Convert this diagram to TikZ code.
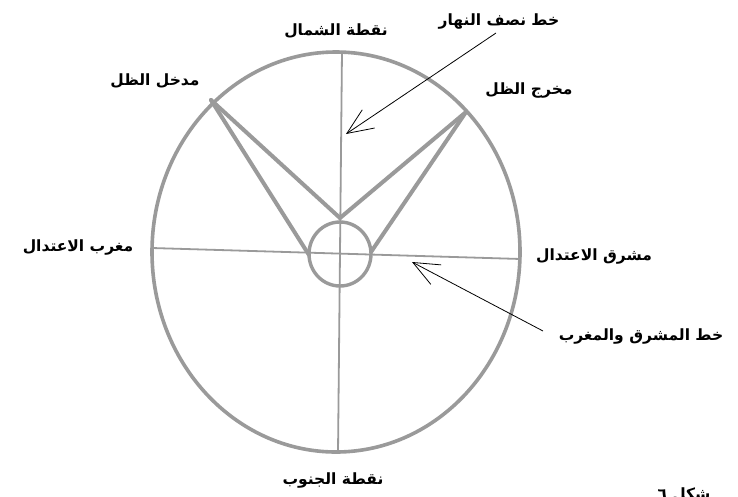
\documentclass[tikz,border=0pt]{standalone}
\usepackage{fontspec}
\newfontfamily\arabicfont[Script=Arabic]{DejaVu Sans}
\TeXXeTstate=1
\usetikzlibrary{arrows.meta}
\definecolor{lg}{HTML}{9A9A9A}
\begin{document}
\begin{tikzpicture}[x=1pt,y=-1pt,
  lbl/.style={font=\arabicfont\bfseries\fontsize{15.5}{18}\selectfont, inner sep=0pt, text=black},
  rim/.style={draw=lg, line width=3.6pt},
  shade/.style={draw=lg, line width=4pt, line cap=round, line join=round},
  axis/.style={draw=lg, line width=1.8pt},
  pointer/.style={draw=black, line width=0.8pt, -{Straight Barb[length=26pt,width=22pt,line width=0.8pt]}}]
\clip (0,0) rectangle (738,496);
\fill[white] (0,0) rectangle (738,496);

% outer ellipse
\draw[rim] (336,252) ellipse [x radius=184pt, y radius=200pt];

% axes
\coordinate (N) at (342,51);
\coordinate (S) at (338,453);
\coordinate (W) at (152,248);
\coordinate (E) at (521,259);
\draw[axis] (N) -- (S);
\draw[axis] (W) -- (E);

% small circle
\draw[draw=lg, line width=3.4pt] (340,254) ellipse [x radius=31pt, y radius=32pt];

% shadow lines
\coordinate (entry) at (211,100);
\coordinate (exit) at (466,112);
\coordinate (tip) at (340,218);
\coordinate (tl) at (309,255);
\coordinate (tr) at (371,252);
\draw[shade] (entry) -- (tip);
\draw[shade] (entry) -- (tl);
\draw[shade] (exit) -- (tip);
\draw[shade] (exit) -- (tr);

% labels
\node[lbl] (north) at (336,31) {\beginR نقطة الشمال\endR};
\node[lbl] (nahar) at (499,22) {\beginR خط نصف النهار\endR};
\node[lbl] (madkhal) at (155,81) {\beginR مدخل الظل\endR};
\node[lbl] (makhraj) at (529,90) {\beginR مخرج الظل\endR};
\node[lbl] (maghrib) at (78,247) {\beginR مغرب الاعتدال\endR};
\node[lbl] (mashriq) at (594,256) {\beginR مشرق الاعتدال\endR};
\node[lbl] (khatt) at (641,336) {\beginR خط المشرق والمغرب\endR};
\node[lbl] (south) at (333,480) {\beginR نقطة الجنوب\endR};
\node[lbl, anchor=north] (fig) at (684,488) {\beginR شكل ٦\endR};

% pointers
\coordinate (p1s) at (496,33);
\coordinate (p1t) at (346,134);
\coordinate (p2s) at (543,331);
\coordinate (p2t) at (412,262);
\draw[pointer] (p1s) -- (p1t);
\draw[pointer] (p2s) -- (p2t);
\end{tikzpicture}
\end{document}
